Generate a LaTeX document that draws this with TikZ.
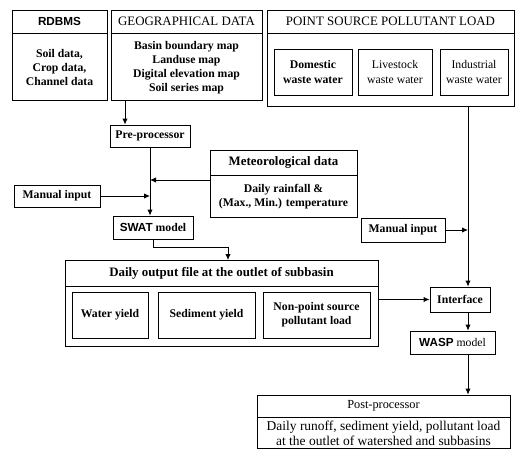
\documentclass[tikz,border=0pt]{standalone}
\usepackage{fontspec}
\setmainfont{Liberation Serif}
\newfontfamily\sanshead{Liberation Sans}
\usetikzlibrary{arrows.meta,positioning}

\newcommand{\prog}[1]{{\sanshead\bfseries #1}}

\begin{document}
\begin{tikzpicture}[
    x=0.03cm, y=-0.03cm,
    font=\fontsize{10}{12}\selectfont,
    sz/.style 2 args={
        minimum width=#1*0.03cm,
        minimum height=#2*0.03cm
    },
    box/.style={
        draw,
        line width=0.7pt,
        inner sep=1pt,
        align=center,
        font=\fontsize{10}{12}\selectfont\bfseries
    },
    plain/.style={
        box,
        font=\fontsize{10}{12}\selectfont
    },
    big/.style={font=\fontsize{11}{12}\selectfont},
    bigb/.style={font=\fontsize{11}{12}\selectfont\bfseries},
    arr/.style={-{Latex[length=1.8mm,width=1.6mm]}, line width=0.7pt}
]
    \useasboundingbox (0,0) rectangle (516,453);

    %% Input data
    \node[box, sz={95}{23}] (rdbmshead) at (59.5,21.5) {\prog{RDBMS}};
    \node[box, sz={95}{67}, below=0pt of rdbmshead] (rdbmsbody) {Soil data,\\Crop data,\\Channel data};
    \node[plain, big, sz={151}{23}] (geohead) at (186.5,21.5) {GEOGRAPHICAL DATA};
    \node[box, sz={151}{67}, below=0pt of geohead] (geobody) {Basin boundary map\\Landuse map\\Digital elevation map\\Soil series map};
    \node[plain, big, sz={247}{23}] (pshead) at (390.5,21.5) {POINT SOURCE POLLUTANT LOAD};
    \node[box, sz={247}{73}, below=0pt of pshead] (psbody) {};
    \node[box, sz={78}{46}] (dom) at (313,72) {Domestic\\waste water};
    \node[plain, sz={74}{46}] (live) at (395,72) {Livestock\\waste water};
    \node[plain, sz={68}{46}] (ind) at (474,72) {Industrial\\waste water};

    %% SWAT part
    \node[box, sz={80}{22}] (preproc) at (150,136) {Pre-processor};
    \node[box, bigb, sz={147}{25}] (methead) at (283.5,162.5) {Meteorological data};
    \node[box, sz={147}{42}, below=0pt of methead] (metbody) {Daily rainfall \&\\(Max., Min.) temperature};
    \node[box, sz={86}{22}] (manl) at (57,196) {Manual input};
    \node[box, sz={80}{23}] (swat) at (153,227.5) {\prog{SWAT} model};

    %% Output of SWAT
    \node[box, bigb, sz={313}{26}] (outhead) at (221.5,273) {Daily output file at the outlet of subbasin};
    \node[box, sz={313}{60}, below=0pt of outhead] (outbody) {};
    \node[box, sz={76}{46}] (water) at (110,315) {Water yield};
    \node[box, sz={97}{46}] (sed) at (206.5,315) {Sediment yield};
    \node[box, sz={107}{46}] (nps) at (316.5,315) {Non-point source\\pollutant load};

    %% WASP part
    \node[box, sz={84}{24}] (manr) at (403,230) {Manual input};
    \node[box, sz={60}{25}] (iface) at (460,299.5) {Interface};
    \node[plain, sz={85}{23}] (wasp) at (452.5,342.5) {\prog{WASP} model};
    \node[plain, font=\fontsize{10.5}{12}\selectfont, sz={253}{22}] (posthead) at (383.5,406) {Post-processor};
    \node[plain, font=\fontsize{11.5}{12.5}\selectfont, sz={253}{31}, below=0pt of posthead] (postbody) {Daily runoff, sediment yield, pollutant load\\at the outlet of watershed and subbasins};

    %% Junctions
    \coordinate (geox) at (125,0);
    \coordinate (metj) at (150,180);
    \coordinate (oin) at (228,260);
    \coordinate (psx) at (468,0);

    %% Arrows
    \draw[arr] (geobody.south -| geox) -- (preproc.north -| geox);
    \draw[arr] (preproc.south) -- (swat.north -| preproc.south);
    \draw[arr] (metbody.west |- metj) -- (metj);
    \draw[arr] (manl.east) -- (manl.east -| preproc.south);
    \draw[arr] (swat.south) -- ++(0,8) -| (oin);
    \draw[arr] (outbody.east |- iface.west) -- (iface.west);
    \draw[arr] (psbody.south -| psx) -- (iface.north -| psx);
    \draw[arr] (manr.east) -- (manr.east -| psx);
    \draw[arr] (iface.south -| psx) -- (wasp.north -| psx);
    \draw[arr] (wasp.south -| psx) -- (posthead.north -| psx);
\end{tikzpicture}
\end{document}
